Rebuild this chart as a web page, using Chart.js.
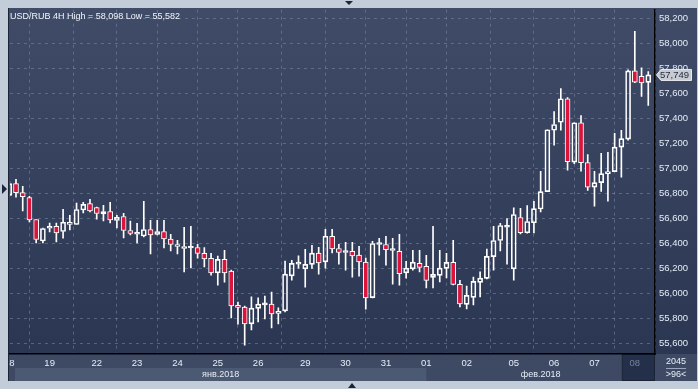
<!DOCTYPE html>
<html>
<head>
<meta charset="utf-8">
<script src="https://cdn.jsdelivr.net/npm/chart.js@4.4.1/dist/chart.umd.min.js"></script>
<style>
  html, body { margin: 0; padding: 0; background: #c3ccd9; }
  canvas { display: block; }
</style>
</head>
<body>
<canvas id="usdRubChart" width="698" height="389"></canvas>
<script>
// USD/RUB, 4H candles, 18 Jan - 08 Feb 2018
const opens = [
  56.784, 56.878, 56.806, 56.766, 56.590, 56.418, 56.520, 56.536, 56.494, 56.568,
  56.550, 56.666, 56.718, 56.686, 56.634, 56.654, 56.582, 56.614, 56.502, 56.472,
  56.458, 56.510, 56.470, 56.494, 56.434, 56.390, 56.358, 56.362, 56.366, 56.318,
  56.278, 56.162, 56.270, 56.176, 55.902, 55.888, 55.754, 55.878, 55.906, 55.912,
  55.838, 55.858, 56.138, 56.232, 56.194, 56.230, 56.320, 56.250, 56.456, 56.358,
  56.326, 56.336, 56.304, 56.248, 55.964, 56.390, 56.390, 56.342, 56.336, 56.162,
  56.194, 56.238, 56.214, 56.126, 56.142, 56.198, 56.246, 56.070, 55.910, 55.966,
  56.086, 56.118, 56.292, 56.422, 56.528, 56.194, 56.606, 56.484, 56.564, 56.674,
  56.814, 57.306, 57.370, 57.558, 57.050, 57.366, 57.046, 56.850, 56.886, 56.958,
  56.974, 57.170, 57.234, 57.782, 57.738, 57.690
];
const highs = [
  56.896, 56.912, 56.856, 56.776, 56.590, 56.522, 56.562, 56.562, 56.672, 56.624,
  56.722, 56.728, 56.752, 56.690, 56.704, 56.728, 56.624, 56.640, 56.578, 56.560,
  56.736, 56.584, 56.584, 56.584, 56.472, 56.424, 56.528, 56.536, 56.392, 56.366,
  56.318, 56.296, 56.344, 56.184, 55.928, 55.896, 55.970, 55.962, 55.976, 56.008,
  55.882, 56.256, 56.262, 56.298, 56.352, 56.384, 56.368, 56.512, 56.512, 56.392,
  56.408, 56.408, 56.376, 56.280, 56.416, 56.440, 56.456, 56.440, 56.472, 56.254,
  56.344, 56.344, 56.302, 56.536, 56.344, 56.318, 56.424, 56.102, 56.056, 56.128,
  56.170, 56.354, 56.536, 56.560, 56.598, 56.684, 56.680, 56.702, 56.736, 56.976,
  57.310, 57.456, 57.640, 57.568, 57.366, 57.424, 57.110, 56.976, 57.120, 57.128,
  57.280, 57.304, 57.790, 58.098, 57.806, 57.776
];
const lows = [
  56.776, 56.770, 56.658, 56.570, 56.402, 56.402, 56.490, 56.410, 56.440, 56.506,
  56.550, 56.642, 56.650, 56.592, 56.578, 56.562, 56.522, 56.442, 56.466, 56.402,
  56.450, 56.314, 56.466, 56.362, 56.338, 56.314, 56.170, 56.202, 56.280, 56.210,
  56.144, 56.064, 56.088, 55.802, 55.752, 55.582, 55.706, 55.770, 55.794, 55.722,
  55.754, 55.850, 56.104, 56.200, 56.048, 56.198, 56.152, 56.200, 56.322, 56.232,
  56.184, 56.128, 56.136, 55.872, 55.962, 56.304, 56.224, 56.072, 56.064, 56.120,
  56.184, 56.170, 56.042, 56.042, 56.090, 56.122, 56.066, 55.890, 55.874, 55.906,
  55.970, 56.114, 56.184, 56.338, 56.232, 56.104, 56.474, 56.480, 56.482, 56.650,
  56.814, 57.186, 57.306, 56.986, 57.038, 56.978, 56.824, 56.698, 56.816, 56.738,
  56.974, 56.930, 57.226, 57.688, 57.576, 57.504
];
const closes = [
  56.878, 56.806, 56.774, 56.586, 56.430, 56.518, 56.530, 56.482, 56.568, 56.550,
  56.670, 56.712, 56.658, 56.638, 56.654, 56.586, 56.608, 56.502, 56.478, 56.480,
  56.510, 56.466, 56.494, 56.434, 56.390, 56.374, 56.374, 56.368, 56.318, 56.274,
  56.162, 56.270, 56.162, 55.898, 55.886, 55.754, 55.880, 55.912, 55.912, 55.834,
  55.854, 56.152, 56.238, 56.240, 56.230, 56.320, 56.242, 56.456, 56.354, 56.326,
  56.334, 56.298, 56.250, 55.962, 56.398, 56.398, 56.348, 56.352, 56.156, 56.200,
  56.248, 56.206, 56.102, 56.150, 56.200, 56.246, 56.070, 55.914, 55.982, 56.094,
  56.120, 56.294, 56.422, 56.542, 56.534, 56.630, 56.484, 56.574, 56.678, 56.814,
  57.310, 57.352, 57.558, 57.054, 57.366, 57.046, 56.850, 56.886, 56.958, 56.974,
  57.170, 57.238, 57.782, 57.692, 57.686, 57.749
];

const dayLabels = ['18', '19', '22', '23', '24', '25', '26', '29', '30', '31', '01', '02', '05', '06', '07', '08'];
const dayStarts = [0, 6, 13, 19, 25, 31, 37, 44, 50, 56, 62, 68, 75, 81, 87, 93];
const monthLabels = ['янв.2018', 'фев.2018'];
const monthStarts = [0, 62];
const priceTicks = [55.6, 55.8, 56.0, 56.2, 56.4, 56.6, 56.8, 57.0, 57.2, 57.4, 57.6, 57.8, 58.0, 58.2];

const RED = '#dc143c';
const FRAME = '#c3ccd9';
const FONT = "'Liberation Sans', Arial, sans-serif";
const fmt = v => v.toFixed(3).replace('.', ',');

const idx = opens.map((_, i) => i);
const bodyData = idx.map(i => ({ x: i, y: [opens[i], closes[i]] }));
const upperWick = idx.map(i => ({ x: i, y: [Math.max(opens[i], closes[i]), highs[i]] }));
const lowerWick = idx.map(i => ({ x: i, y: [lows[i], Math.min(opens[i], closes[i])] }));
const bodyFill = idx.map(i => closes[i] < opens[i] ? RED : 'rgba(0,0,0,0)');

const decor = {
  id: 'decor',
  beforeDraw(chart) {
    const { ctx, chartArea: a, width, height } = chart;
    const xs = chart.scales.x;
    ctx.save();
    ctx.fillStyle = FRAME;
    ctx.fillRect(0, 0, width, height);
    const g = ctx.createLinearGradient(0, a.top, 0, a.bottom);
    g.addColorStop(0, '#3f4b67');
    g.addColorStop(1, '#2b3652');
    ctx.fillStyle = g;
    ctx.fillRect(8, 8, 689, a.bottom - 8);
    // date rows
    ctx.fillStyle = '#3e4a64';
    ctx.fillRect(8, a.bottom, 689, 27);
    const feb = xs.getPixelForValue(monthStarts[1]);
    ctx.fillStyle = '#4c5972';
    ctx.fillRect(15, a.bottom + 14, feb - 15, 13);
    // current day box
    const cur = xs.getPixelForValue(dayStarts[dayStarts.length - 1]);
    ctx.fillStyle = '#243049';
    ctx.fillRect(cur - 12, a.bottom + 1, a.right - cur + 12, 26);
    ctx.strokeStyle = '#1a2236';
    ctx.lineWidth = 1;
    ctx.strokeRect(cur - 12.5, a.bottom + 0.5, a.right - cur + 12, 26);
    ctx.restore();
  },
  afterDraw(chart) {
    const { ctx, chartArea: a, height } = chart;
    const xs = chart.scales.x, ys = chart.scales.y;
    ctx.save();
    // left strip with marker
    ctx.fillStyle = FRAME;
    ctx.fillRect(0, 0, 8, height);
    ctx.fillStyle = '#1c2538';
    ctx.fillRect(8, 8, 1, a.bottom + 27 - 8);
    ctx.beginPath();
    ctx.moveTo(2, 184); ctx.lineTo(7, 189); ctx.lineTo(2, 194); ctx.closePath();
    ctx.fill();
    // top / bottom arrows
    ctx.beginPath();
    ctx.moveTo(345, 1); ctx.lineTo(353, 1); ctx.lineTo(349, 5); ctx.closePath();
    ctx.fill();
    ctx.beginPath();
    ctx.moveTo(348, 388); ctx.lineTo(356, 388); ctx.lineTo(352, 383); ctx.closePath();
    ctx.fill();

    // title
    ctx.font = '9px ' + FONT;
    ctx.fillStyle = '#f2f5fb';
    ctx.textBaseline = 'alphabetic';
    ctx.textAlign = 'left';
    ctx.fillText('USD/RUB 4H High = ' + fmt(Math.max(...highs)) + ' Low = ' + fmt(Math.min(...lows)), 10, 18.5);

    // month labels
    const feb = xs.getPixelForValue(monthStarts[1]);
    ctx.font = '9px ' + FONT;
    ctx.textAlign = 'center';
    ctx.textBaseline = 'middle';
    ctx.fillStyle = '#e6ecf7';
    ctx.fillText(monthLabels[0], (15 + feb) / 2, a.bottom + 21);
    ctx.fillText(monthLabels[1], (feb + a.right) / 2, a.bottom + 21);

    // corner box
    const cx = (a.right + 697) / 2;
    ctx.fillText('2045', cx, a.bottom + 8);
    ctx.fillText('>' + opens.length + '<', cx, a.bottom + 20.5);
    ctx.fillStyle = '#9aa6bb';
    ctx.fillRect(cx - 10, a.bottom + 14, 20, 1);

    // last price marker
    const last = closes[closes.length - 1];
    const py = ys.getPixelForValue(last);
    ctx.beginPath();
    ctx.moveTo(a.right + 1.5, py);
    ctx.lineTo(a.right + 6, py - 5.5);
    ctx.lineTo(691.5, py - 5.5);
    ctx.lineTo(691.5, py + 5.5);
    ctx.lineTo(a.right + 6, py + 5.5);
    ctx.closePath();
    ctx.fillStyle = '#c7cad0';
    ctx.fill();
    ctx.strokeStyle = '#e8eaee';
    ctx.lineWidth = 1;
    ctx.stroke();
    ctx.fillStyle = '#1d2a40';
    ctx.textAlign = 'left';
    ctx.font = '9.5px ' + FONT;
    ctx.fillText(fmt(last), a.right + 5, py + 0.5);
    ctx.restore();
  }
};

const ctx = document.getElementById('usdRubChart').getContext('2d');
const chart = new Chart(ctx, {
  type: 'bar',
  data: {
    datasets: [
      {
        label: 'upper',
        data: upperWick,
        backgroundColor: '#ffffff',
        barThickness: 1,
        borderWidth: 0
      },
      {
        label: 'lower',
        data: lowerWick,
        backgroundColor: '#ffffff',
        barThickness: 1,
        borderWidth: 0
      },
      {
        label: 'body',
        data: bodyData,
        backgroundColor: bodyFill,
        borderColor: '#ffffff',
        borderWidth: 1,
        borderSkipped: false,
        barThickness: 5,
        minBarLength: 2
      }
    ]
  },
  options: {
    responsive: false,
    animation: false,
    devicePixelRatio: 1,
    datasets: { bar: { grouped: false } },
    layout: { padding: { left: 9, top: 9, right: 0, bottom: 0 } },
    plugins: {
      legend: { display: false },
      tooltip: { enabled: false }
    },
    scales: {
      x: {
        type: 'linear',
        offset: false,
        min: 0.1,
        max: 96,
        afterBuildTicks: axis => { axis.ticks = dayStarts.map(v => ({ value: v })); },
        afterFit: axis => { axis.height = 35; },
        grid: {
          color: 'rgba(125,140,170,0.55)',
          drawTicks: false
        },
        border: { display: true, color: '#000000', width: 1.5, dash: [3, 4] },
        ticks: {
          autoSkip: false,
          maxRotation: 0,
          padding: 4,
          font: { family: FONT, size: 9.5 },
          color: c => c.index === dayLabels.length - 1 ? '#76839b' : '#e6ecf7',
          callback: (v, i) => dayLabels[i]
        }
      },
      y: {
        position: 'right',
        min: 55.512,
        max: 58.272,
        afterBuildTicks: axis => { axis.ticks = priceTicks.map(v => ({ value: v })); },
        afterFit: axis => { axis.width = 43; },
        grid: {
          color: 'rgba(125,140,170,0.55)',
          drawTicks: false
        },
        border: { display: true, color: '#000000', width: 1.5, dash: [3, 4] },
        ticks: {
          padding: 4,
          font: { family: FONT, size: 9.5 },
          color: '#e6ecf7',
          callback: v => fmt(v)
        }
      }
    }
  },
  plugins: [decor]
});
</script>
</body>
</html>
